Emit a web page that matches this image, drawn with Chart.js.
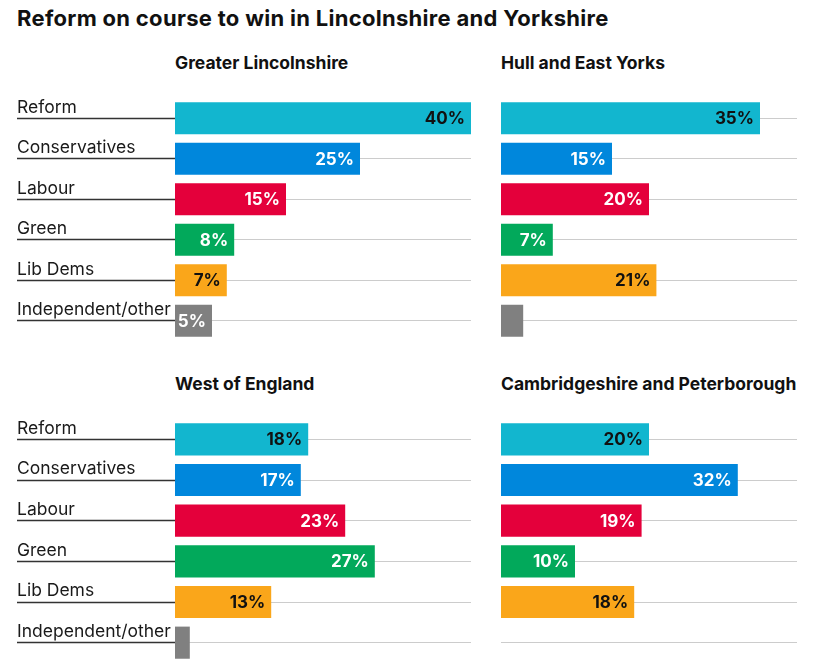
<!DOCTYPE html>
<html>
<head>
<meta charset="utf-8">
<script src="https://cdn.jsdelivr.net/npm/chart.js@4.4.1/dist/chart.umd.min.js"></script>
<style>
  body { margin: 0; background: #fff; width: 823px; height: 667px; position: relative; overflow: hidden; font-family: Inter, sans-serif; color: #111; }
  h1 { position: absolute; left: 17px; top: 5px; margin: 0; font-size: 22px; font-weight: 700; letter-spacing: 0.3px; line-height: normal; white-space: nowrap; }
  .panel-title { position: absolute; margin: 0; font-size: 17.5px; font-weight: 700; line-height: normal; white-space: nowrap; }
  .box { position: absolute; }
</style>
</head>
<body>
<h1>Reform on course to win in Lincolnshire and Yorkshire</h1>

<div class="panel-title" id="t0" style="left:175px; top:52px;"></div>
<div class="panel-title" id="t1" style="left:501px; top:52px;"></div>
<div class="panel-title" id="t2" style="left:175px; top:373px;"></div>
<div class="panel-title" id="t3" style="left:501px; top:373px;"></div>

<div class="box" style="left:17px; top:98px; width:454px; height:243px;"><canvas id="c0"></canvas></div>
<div class="box" style="left:501px; top:98px; width:296px; height:243px;"><canvas id="c1"></canvas></div>
<div class="box" style="left:17px; top:419px; width:454px; height:244px;"><canvas id="c2"></canvas></div>
<div class="box" style="left:501px; top:419px; width:296px; height:244px;"><canvas id="c3"></canvas></div>

<script>
// Data
const parties = ['Reform', 'Conservatives', 'Labour', 'Green', 'Lib Dems', 'Independent/other'];
const regions = ['Greater Lincolnshire', 'Hull and East Yorks', 'West of England', 'Cambridgeshire and Peterborough'];
const greaterLincolnshire = [40, 25, 15, 8, 7, 5];
const hullEastYorks = [35, 15, 20, 7, 21, 3];
const westOfEngland = [18, 17, 23, 27, 13, 2];
const cambsPeterborough = [20, 32, 19, 10, 18, null];
const axisMax = 40;

const partyColours = ['#12b6cf', '#0087dc', '#e4003b', '#02a95b', '#faa61a', '#808080'];
const darkLabelParties = ['Reform', 'Lib Dems'];
const labelMinimum = 5;

// value labels drawn inside the end of each bar
const valueLabels = {
    id: 'valueLabels',
    afterDatasetsDraw(chart) {
        const ctx = chart.ctx;
        const meta = chart.getDatasetMeta(0);
        const values = chart.data.datasets[0].data;
        ctx.save();
        ctx.font = '700 17px Inter';
        ctx.textAlign = 'right';
        ctx.textBaseline = 'middle';
        meta.data.forEach((bar, i) => {
            const v = values[i];
            if (v == null || v < labelMinimum) return;
            ctx.fillStyle = darkLabelParties.includes(chart.data.labels[i]) ? '#111111' : '#ffffff';
            ctx.fillText(v + '%', bar.x - 6, bar.y + 1);
        });
        ctx.restore();
    }
};

const makeChart = (canvasId, values, showLabels) => {
    new Chart(document.getElementById(canvasId), {
        type: 'bar',
        data: {
            labels: parties,
            datasets: [{
                data: values,
                backgroundColor: partyColours,
                categoryPercentage: 1,
                barPercentage: 0.79
            }]
        },
        options: {
            indexAxis: 'y',
            responsive: true,
            maintainAspectRatio: false,
            animation: false,
            layout: { padding: 0 },
            plugins: {
                legend: { display: false },
                tooltip: { enabled: false }
            },
            scales: {
                x: { display: false, min: 0, max: axisMax },
                y: {
                    grid: {
                        offset: false,
                        color: '#cccccc',
                        lineWidth: 1,
                        drawTicks: showLabels,
                        tickLength: 158,
                        tickColor: '#333333',
                        tickWidth: 1.3
                    },
                    border: { display: false },
                    ticks: {
                        display: showLabels,
                        crossAlign: 'far',
                        labelOffset: -11,
                        padding: 0,
                        color: '#1a1a1a',
                        font: { family: 'Inter', size: 17.5 }
                    },
                    afterFit: (scale) => {
                        scale.width = showLabels ? 158 : 0;
                        // keep the label area from shrinking the plot vertically
                        scale.paddingTop = 0;
                        scale.paddingBottom = 0;
                    }
                }
            }
        },
        plugins: [valueLabels]
    });
};

regions.forEach((name, i) => { document.getElementById('t' + i).textContent = name; });

makeChart('c0', greaterLincolnshire, true);
makeChart('c1', hullEastYorks, false);
makeChart('c2', westOfEngland, true);
makeChart('c3', cambsPeterborough, false);
</script>
</body>
</html>
